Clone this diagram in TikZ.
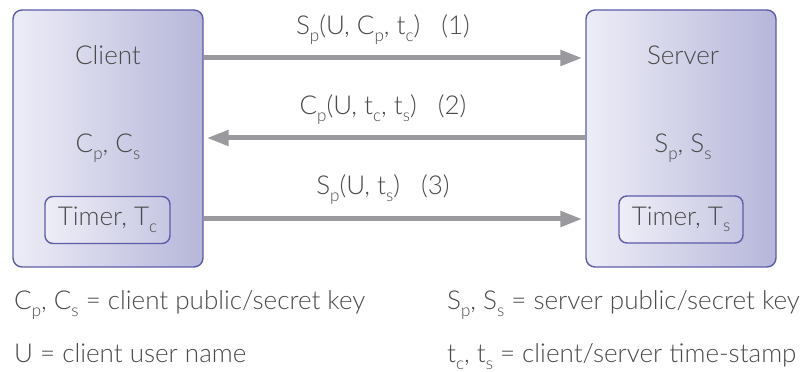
\documentclass[tikz,border=0pt]{standalone}
\usepackage{fontspec}
\setmainfont{Lato Light}
\usetikzlibrary{arrows.meta}
\definecolor{boxedge}{HTML}{5C5CA8}
\definecolor{boxlight}{HTML}{EDEDF7}
\definecolor{boxdark}{HTML}{B6B6DA}
\definecolor{txt}{HTML}{4A4A4A}
\definecolor{arrowgray}{HTML}{9A9A9E}
% subscript set lower and smaller than the base letter
\newcommand\sbs[1]{\raisebox{-0.5ex}{\fontsize{17}{17}\selectfont #1}}
\tikzset{
  party/.style={draw=boxedge, line width=1.4pt, rounded corners=9pt,
    left color=boxlight, right color=boxdark,
    minimum width=190pt, minimum height=257pt, inner sep=0pt},
  timerbox/.style={draw=boxedge, line width=1.4pt, rounded corners=8pt,
    left color=boxlight!95!white, right color=boxdark!70!boxlight,
    minimum height=47pt, inner sep=0pt, text=txt,
    font=\fontsize{26}{26}\selectfont},
  lbl/.style={text=txt, font=\fontsize{26}{26}\selectfont, inner sep=0pt},
  msg/.style={draw=arrowgray, line width=5pt,
    -{Triangle[length=22pt,width=15pt]}, shorten >=3pt},
}
\begin{document}
\begin{tikzpicture}[x=1pt,y=1pt]
\useasboundingbox (0,0) rectangle (809,372);

% the two parties
\node[party] (client) at (108,233.5) {};
\node[party] (server) at (681,233.5) {};

\node[lbl, anchor=base] (cname) at (108,307) {Client};
\node[lbl, anchor=base] (ckeys) at (108,219) {C\sbs{p}, C\sbs{s}};
\node[timerbox, minimum width=125pt] (ctimer) at (107.5,152) {Timer, T\sbs{c}};

\node[lbl, anchor=base] (sname) at (683,307) {Server};
\node[lbl, anchor=base] (skeys) at (683,219) {S\sbs{p}, S\sbs{s}};
\node[timerbox, minimum width=124pt] (stimer) at (681,152.5) {Timer, T\sbs{s}};

% message exchange
\coordinate (m1) at (0,314);
\coordinate (m2) at (0,234);
\coordinate (m3) at (0,153);
\draw[msg] (client.east |- m1) -- (server.west |- m1);
\draw[msg] (server.west |- m2) -- (client.east |- m2);
\draw[msg] (client.east |- m3) -- (server.west |- m3);

\node[lbl, anchor=base] (l1) at (383,337) {S\sbs{p}(U, C\sbs{p}, t\sbs{c})\ \ \ (1)};
\node[lbl, anchor=base] (l2) at (383,257) {C\sbs{p}(U, t\sbs{c}, t\sbs{s})\ \ \ (2)};
\node[lbl, anchor=base] (l3) at (383,177) {S\sbs{p}(U, t\sbs{s})\ \ \ (3)};

% legend
\node[lbl, anchor=base west] (k1) at (14,62) {C\sbs{p}, C\sbs{s} = client public/secret key};
\node[lbl, anchor=base west] (k2) at (447,62) {S\sbs{p}, S\sbs{s} = server public/secret key};
\node[lbl, anchor=base west] (k3) at (14,9) {U = client user name};
\node[lbl, anchor=base west] (k4) at (447,9) {t\sbs{c}, t\sbs{s} = client/server time-stamp};
\end{tikzpicture}
\end{document}
